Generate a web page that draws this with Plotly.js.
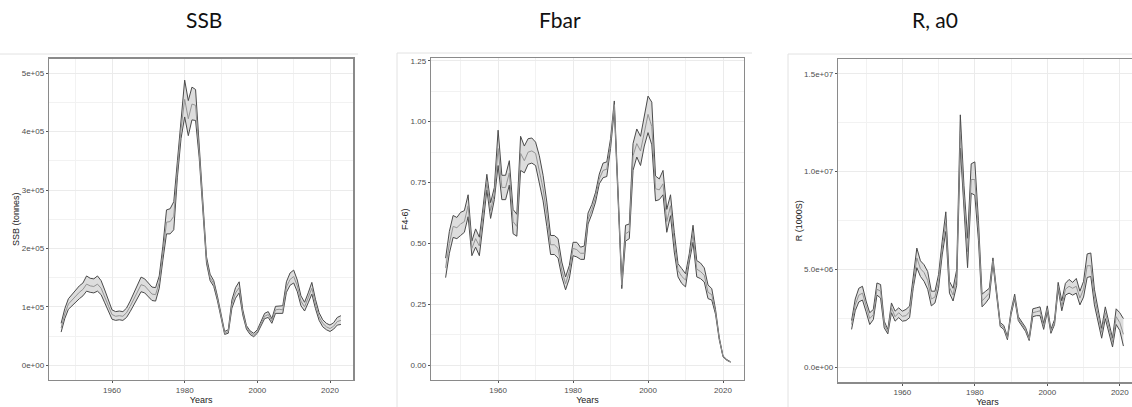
<!DOCTYPE html>
<html>
<head>
<meta charset="utf-8">
<script src="https://cdn.plot.ly/plotly-3.0.1.min.js"></script>
<style>
html,body{margin:0;padding:0;background:#fff;overflow:hidden;width:1132px;height:407px;}
#chart{width:1150px;height:407px;}
</style>
</head>
<body>
<div id="chart"></div>
<script>
// ---------------- DATA ----------------
const ssbYears = [1946,1947,1948,1949,1950,1951,1952,1953,1954,1955,1956,1957,1958,1959,1960,1961,1962,1963,1964,1965,1966,1967,1968,1969,1970,1971,1972,1973,1974,1975,1976,1977,1978,1979,1980,1981,1982,1983,1984,1985,1986,1987,1988,1989,1990,1991,1992,1993,1994,1995,1996,1997,1998,1999,2000,2001,2002,2003,2004,2005,2006,2007,2008,2009,2010,2011,2012,2013,2014,2015,2016,2017,2018,2019,2020,2021,2022,2023];
const ssbMid = [64000,88000,105000,112000,119000,125000,130000,139000,136000,135000,139000,132000,117000,101000,87000,84000,85000,84000,90000,101000,113000,127000,138000,136000,128000,122000,121000,142000,192000,245000,246000,255000,335000,405000,455000,422000,447000,445000,365000,265000,180000,150000,140000,115000,85000,55000,58000,105000,124000,133000,90000,65000,56000,52000,58000,71000,84000,87000,76000,95000,96000,95000,134000,147000,152000,136000,110000,100000,115000,132000,105000,83000,72000,66000,63000,67000,75000,77000];
const ssbLow = [57000,80000,96000,102000,109000,114000,119000,127000,125000,124000,127000,121000,107000,92000,79000,77000,78000,77000,82000,92000,103000,116000,126000,124000,117000,111000,110000,132000,180000,225000,225000,232000,322000,388000,425000,393000,420000,419000,355000,258000,175000,145000,135000,111000,82000,53000,55000,98000,115000,124000,86000,62000,53000,49000,55000,67000,80000,82000,72000,89000,89000,89000,125000,137000,141000,126000,102000,93000,107000,122000,97000,77000,66000,61000,58000,62000,69000,70000];
const ssbHigh = [72000,97000,114000,121000,129000,136000,141000,153000,149000,148000,153000,145000,129000,111000,95000,92000,93000,92000,98000,110000,123000,139000,151000,148000,140000,134000,133000,153000,204000,266000,268000,280000,350000,422000,488000,453000,476000,472000,376000,272000,186000,156000,145000,119000,88000,58000,61000,112000,133000,143000,95000,68000,59000,55000,61000,75000,89000,92000,80000,101000,102000,102000,143000,158000,163000,146000,119000,108000,124000,142000,113000,90000,78000,72000,69000,73000,82000,85000];

const fYears = [1946,1947,1948,1949,1950,1951,1952,1953,1954,1955,1956,1957,1958,1959,1960,1961,1962,1963,1964,1965,1966,1967,1968,1969,1970,1971,1972,1973,1974,1975,1976,1977,1978,1979,1980,1981,1982,1983,1984,1985,1986,1987,1988,1989,1990,1991,1992,1993,1994,1995,1996,1997,1998,1999,2000,2001,2002,2003,2004,2005,2006,2007,2008,2009,2010,2011,2012,2013,2014,2015,2016,2017,2018,2019,2020,2021,2022];
const fMid = [0.40,0.50,0.57,0.565,0.58,0.59,0.655,0.48,0.52,0.49,0.62,0.75,0.635,0.705,0.89,0.73,0.73,0.79,0.59,0.57,0.87,0.84,0.875,0.88,0.87,0.80,0.725,0.62,0.495,0.495,0.48,0.39,0.335,0.385,0.48,0.475,0.46,0.46,0.60,0.64,0.69,0.765,0.80,0.805,0.91,1.07,0.70,0.33,0.54,0.55,0.86,0.91,0.88,0.96,1.03,0.98,0.725,0.72,0.745,0.59,0.655,0.505,0.39,0.365,0.35,0.44,0.54,0.395,0.385,0.37,0.30,0.29,0.22,0.11,0.037,0.022,0.014];
const fLow = [0.36,0.46,0.525,0.52,0.533,0.546,0.61,0.45,0.485,0.45,0.58,0.72,0.603,0.68,0.82,0.68,0.68,0.74,0.54,0.53,0.80,0.79,0.825,0.83,0.82,0.75,0.675,0.57,0.455,0.455,0.44,0.363,0.31,0.356,0.45,0.445,0.435,0.435,0.58,0.62,0.67,0.745,0.77,0.775,0.89,1.05,0.68,0.315,0.51,0.52,0.80,0.855,0.82,0.90,0.955,0.905,0.675,0.68,0.70,0.546,0.614,0.465,0.363,0.336,0.322,0.424,0.505,0.363,0.356,0.342,0.274,0.268,0.21,0.105,0.035,0.021,0.013];
const fHigh = [0.44,0.55,0.615,0.607,0.628,0.635,0.70,0.51,0.56,0.526,0.65,0.784,0.668,0.73,0.965,0.78,0.78,0.84,0.64,0.62,0.94,0.90,0.93,0.933,0.916,0.86,0.78,0.67,0.533,0.533,0.52,0.424,0.363,0.41,0.505,0.505,0.485,0.49,0.625,0.66,0.71,0.785,0.83,0.835,0.93,1.085,0.72,0.345,0.575,0.58,0.91,0.97,0.94,1.02,1.105,1.08,0.777,0.765,0.80,0.64,0.70,0.546,0.417,0.397,0.376,0.458,0.575,0.43,0.42,0.40,0.33,0.315,0.23,0.115,0.039,0.024,0.015];

const rYears = [1946,1947,1948,1949,1950,1951,1952,1953,1954,1955,1956,1957,1958,1959,1960,1961,1962,1963,1964,1965,1966,1967,1968,1969,1970,1971,1972,1973,1974,1975,1976,1977,1978,1979,1980,1981,1982,1983,1984,1985,1986,1987,1988,1989,1990,1991,1992,1993,1994,1995,1996,1997,1998,1999,2000,2001,2002,2003,2004,2005,2006,2007,2008,2009,2010,2011,2012,2013,2014,2015,2016,2017,2018,2019,2020,2021];
const rMid = [2.2e6,3.2e6,3.7e6,3.8e6,3.15e6,2.5e6,2.7e6,4.0e6,3.9e6,2.2e6,1.85e6,3.05e6,2.6e6,2.8e6,2.62e6,2.65e6,2.85e6,4.35e6,5.6e6,5.05e6,4.85e6,4.45e6,3.5e6,3.6e6,4.4e6,6.1e6,7.4e6,4.1e6,3.7e6,4.6e6,12.0e6,8.6e6,5.9e6,9.6e6,9.6e6,7.0e6,3.4e6,3.6e6,3.8e6,5.45e6,3.9e6,2.2e6,2.05e6,1.5e6,2.8e6,3.6e6,2.5e6,2.2e6,1.95e6,1.45e6,2.8e6,2.85e6,2.9e6,2.1e6,3.0e6,1.85e6,2.3e6,4.15e6,3.1e6,4.0e6,4.15e6,4.05e6,4.15e6,3.55e6,4.0e6,5.2e6,5.2e6,3.6e6,2.6e6,1.8e6,2.8e6,2.05e6,1.3e6,2.6e6,2.3e6,1.7e6];
const rLow = [1.95e6,2.9e6,3.35e6,3.45e6,2.85e6,2.2e6,2.45e6,3.7e6,3.55e6,2.03e6,1.72e6,2.8e6,2.37e6,2.55e6,2.37e6,2.4e6,2.55e6,4.05e6,5.1e6,4.65e6,4.4e6,4.0e6,3.15e6,3.3e6,4.05e6,5.75e6,6.95e6,3.8e6,3.4e6,4.2e6,11.2e6,8.0e6,5.1e6,8.9e6,8.8e6,6.5e6,3.1e6,3.3e6,3.55e6,5.3e6,3.8e6,2.1e6,1.95e6,1.42e6,2.7e6,3.5e6,2.4e6,2.1e6,1.85e6,1.38e6,2.6e6,2.65e6,2.65e6,1.95e6,2.85e6,1.75e6,2.2e6,4.0e6,2.9e6,3.7e6,3.8e6,3.7e6,3.8e6,3.2e6,3.6e6,4.6e6,4.65e6,3.2e6,2.35e6,1.5e6,2.5e6,1.8e6,1.05e6,2.2e6,1.9e6,1.1e6];
const rHigh = [2.4e6,3.5e6,4.05e6,4.15e6,3.4e6,2.8e6,2.97e6,4.32e6,4.24e6,2.37e6,1.95e6,3.3e6,2.88e6,3.05e6,2.88e6,2.97e6,3.14e6,4.66e6,6.1e6,5.45e6,5.25e6,4.9e6,3.9e6,3.9e6,4.75e6,6.45e6,7.95e6,4.4e6,4.05e6,5.0e6,12.9e6,9.3e6,6.6e6,10.4e6,10.5e6,7.5e6,3.75e6,3.9e6,4.05e6,5.6e6,4.0e6,2.3e6,2.15e6,1.58e6,2.9e6,3.75e6,2.6e6,2.3e6,2.05e6,1.52e6,3.0e6,3.05e6,3.1e6,2.25e6,3.15e6,1.95e6,2.45e6,4.35e6,3.4e6,4.3e6,4.5e6,4.35e6,4.55e6,3.9e6,4.4e6,5.8e6,5.85e6,4.0e6,2.9e6,2.0e6,3.1e6,2.3e6,1.5e6,3.0e6,2.8e6,2.5e6];

const panelTitles = ["SSB", "Fbar", "R, a0"];
const yTitles = ["SSB (tonnes)", "F4-6)", "R (1000S)"];
const xTitle = "Years";
const xTickVals = [1960, 1980, 2000, 2020];
const xTickText = ["1960", "1980", "2000", "2020"];
const ssbTickVals = [0, 100000, 200000, 300000, 400000, 500000];
const ssbTickText = ["0e+00", "1e+05", "2e+05", "3e+05", "4e+05", "5e+05"];
const fTickVals = [0, 0.25, 0.5, 0.75, 1.0, 1.25];
const fTickText = ["0.00", "0.25", "0.50", "0.75", "1.00", "1.25"];
const rTickVals = [0, 5e6, 1e7, 1.5e7];
const rTickText = ["0.0e+00", "5.0e+06", "1.0e+07", "1.5e+07"];

// ---------------- LAYOUT HELPERS ----------------
const W = 1150, H = 407;
const px = v => v / W;
const py = v => 1 - v / H;

const EDGE = '#4a4a4a', MID = '#939393', FILL = '#dddddd';

function band(x, lo, hi, mid, xa, ya) {
  return [
    {x: x, y: lo, xaxis: xa, yaxis: ya, type: 'scatter', mode: 'lines',
     line: {color: EDGE, width: 1}, hoverinfo: 'skip', showlegend: false},
    {x: x, y: hi, xaxis: xa, yaxis: ya, type: 'scatter', mode: 'lines', fill: 'tonexty',
     fillcolor: FILL, line: {color: EDGE, width: 1}, hoverinfo: 'skip', showlegend: false},
    {x: x, y: mid, xaxis: xa, yaxis: ya, type: 'scatter', mode: 'lines',
     line: {color: MID, width: 1}, showlegend: false}
  ];
}

const data = [].concat(
  band(ssbYears, ssbLow, ssbHigh, ssbMid, 'x', 'y'),
  band(fYears, fLow, fHigh, fMid, 'x2', 'y2'),
  band(rYears, rLow, rHigh, rMid, 'x3', 'y3')
);

const tickFont = {family: 'Liberation Sans, Arial, sans-serif', size: 8, color: '#4d4d4d'};
const titleFont = {family: 'Liberation Sans, Arial, sans-serif', size: 9, color: '#222'};

function xAxis(d0, d1, r0, r1, anchor) {
  return {
    domain: [px(d0), px(d1)], range: [r0, r1], anchor: anchor,
    tickmode: 'array', tickvals: xTickVals, ticktext: xTickText,
    ticks: 'outside', ticklen: 2, tickcolor: '#555', tickwidth: 1,
    tickfont: tickFont, showgrid: true, gridcolor: '#ebebeb', gridwidth: 1,
    minor: {tickmode: 'array', tickvals: [1950, 1970, 1990, 2010], showgrid: true, gridcolor: '#f2f2f2', gridwidth: 1, ticks: ''},
    zeroline: false, showline: true, mirror: true, linecolor: '#8a8a8a', linewidth: 1.2,
    title: {text: xTitle, font: titleFont, standoff: 0}, automargin: false, fixedrange: true
  };
}
function yAxis(d0, d1, r0, r1, tv, tt, minorVals, title, anchor, standoff) {
  return {
    domain: [py(d1), py(d0)], range: [r0, r1], anchor: anchor,
    tickmode: 'array', tickvals: tv, ticktext: tt,
    ticks: 'outside', ticklen: 2, tickcolor: '#555', tickwidth: 1,
    tickfont: tickFont, showgrid: true, gridcolor: '#ebebeb', gridwidth: 1,
    minor: {tickmode: 'array', tickvals: minorVals, showgrid: true, gridcolor: '#f2f2f2', gridwidth: 1, ticks: ''},
    zeroline: false, showline: true, mirror: true, linecolor: '#8a8a8a', linewidth: 1.2,
    title: {text: title, font: titleFont, standoff: standoff}, automargin: false, fixedrange: true
  };
}

const titleAnnFont = {family: 'Lato, Open Sans, sans-serif', size: 21, color: '#111'};

const layout = {
  width: W, height: H,
  margin: {l: 0, r: 0, t: 0, b: 0},
  paper_bgcolor: '#fff', plot_bgcolor: '#fff',
  showlegend: false,
  xaxis: xAxis(49, 353.3, 1942.66, 2026.41, 'y'),
  yaxis: yAxis(58.5, 380, -25000, 525000, ssbTickVals, ssbTickText, [50000,150000,250000,350000,450000], yTitles[0], 'x', 0),
  xaxis2: xAxis(431, 744, 1942.1, 2025.6, 'y2'),
  yaxis2: yAxis(58.3, 380, -0.06, 1.26, fTickVals, fTickText, [0.125,0.375,0.625,0.875,1.125], yTitles[1], 'x2', 0),
  xaxis3: xAxis(838, 1137, 1942.25, 2024.75, 'y3'),
  yaxis3: yAxis(59, 382.3, -0.75e6, 15.75e6, rTickVals, rTickText, [2.5e6,7.5e6,12.5e6], yTitles[2], 'x3', 0),
  annotations: [
    {text: panelTitles[0], x: px(204), y: py(20), xref: 'paper', yref: 'paper', xanchor: 'center', yanchor: 'middle', showarrow: false, font: titleAnnFont},
    {text: panelTitles[1], x: px(560), y: py(20), xref: 'paper', yref: 'paper', xanchor: 'center', yanchor: 'middle', showarrow: false, font: titleAnnFont},
    {text: panelTitles[2], x: px(935), y: py(20), xref: 'paper', yref: 'paper', xanchor: 'center', yanchor: 'middle', showarrow: false, font: titleAnnFont}
  ],
  shapes: [
    {type: 'line', xref: 'paper', yref: 'paper', x0: 0, x1: px(358), y0: py(54), y1: py(54), line: {color: '#e2e2e2', width: 1}},
    {type: 'line', xref: 'paper', yref: 'paper', x0: px(397), x1: px(752), y0: py(53), y1: py(53), line: {color: '#e2e2e2', width: 1}},
    {type: 'line', xref: 'paper', yref: 'paper', x0: px(397), x1: px(397), y0: py(53), y1: 0, line: {color: '#e2e2e2', width: 1}},
    {type: 'line', xref: 'paper', yref: 'paper', x0: px(788), x1: 1, y0: py(54), y1: py(54), line: {color: '#e2e2e2', width: 1}},
    {type: 'line', xref: 'paper', yref: 'paper', x0: px(788), x1: px(788), y0: py(54), y1: 0, line: {color: '#e2e2e2', width: 1}}
  ]
};

Plotly.newPlot('chart', data, layout, {staticPlot: true, displayModeBar: false});
</script>
</body>
</html>
